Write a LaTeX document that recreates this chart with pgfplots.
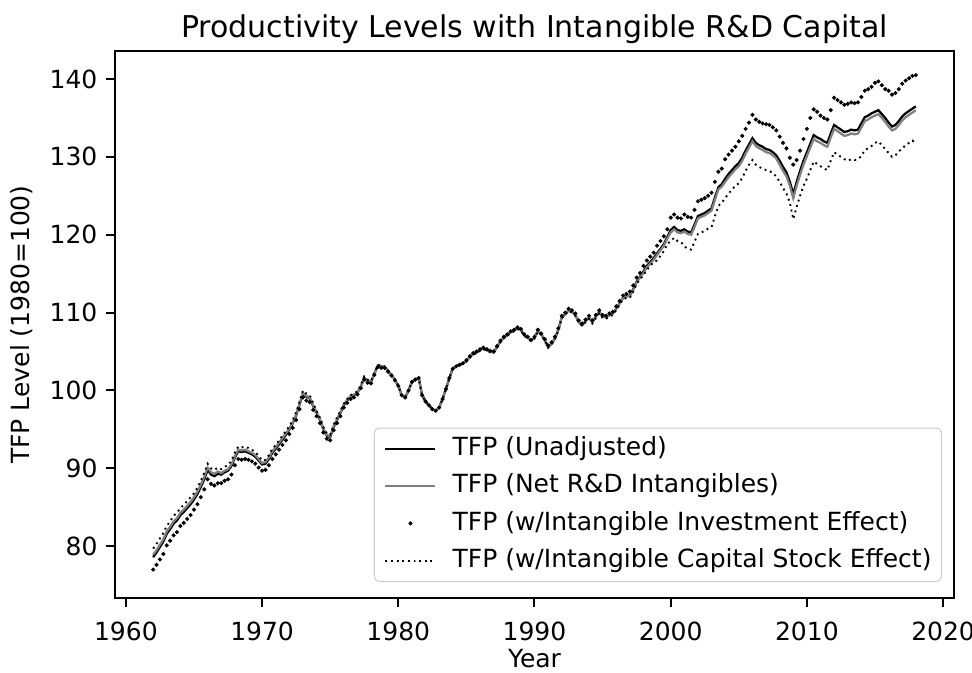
\documentclass[border=0pt]{standalone}
\usepackage{fontspec}
\setmainfont{DejaVu Sans}
\usepackage{pgfplots}
\usepackage{pgfplotstable}
\pgfplotsset{compat=1.18}
\pgfplotstableread{
t U N I C
1962.00 78.6 78.9 77.0 79.7
1962.25 79.2 79.5 77.6 80.3
1962.50 79.9 80.2 78.3 81.0
1962.75 80.6 80.9 79.0 81.7
1963.00 81.6 81.9 80.1 82.6
1963.25 82.2 82.5 80.7 83.2
1963.50 82.9 83.2 81.4 83.9
1963.75 83.3 83.6 81.8 84.3
1964.00 84.0 84.3 82.6 84.9
1964.25 84.4 84.7 83.0 85.3
1964.50 84.9 85.2 83.5 85.8
1964.75 85.4 85.7 84.0 86.3
1965.00 86.0 86.3 84.7 86.8
1965.25 86.7 87.0 85.4 87.5
1965.50 87.6 87.9 86.3 88.4
1965.75 88.6 88.9 87.3 89.4
1966.00 89.8 90.1 88.6 90.6
1966.25 89.2 89.5 88.0 90.0
1966.50 89.0 89.3 87.8 89.8
1966.75 89.3 89.6 88.1 90.1
1967.00 89.2 89.4 88.1 89.9
1967.25 89.5 89.7 88.4 90.2
1967.50 89.7 89.9 88.6 90.4
1967.75 90.3 90.5 89.2 91.0
1968.00 91.4 91.6 90.4 92.0
1968.25 92.2 92.4 91.2 92.8
1968.50 92.1 92.3 91.1 92.7
1968.75 92.2 92.4 91.2 92.8
1969.00 92.0 92.2 91.1 92.6
1969.25 91.8 92.0 90.9 92.4
1969.50 91.5 91.7 90.6 92.1
1969.75 91.0 91.2 90.1 91.6
1970.00 90.5 90.7 89.7 91.0
1970.25 90.6 90.8 89.8 91.1
1970.50 91.2 91.4 90.4 91.7
1970.75 92.0 92.2 91.2 92.5
1971.00 92.5 92.7 91.8 93.0
1971.25 93.1 93.3 92.4 93.6
1971.50 93.7 93.9 93.0 94.2
1971.75 94.3 94.5 93.6 94.8
1972.00 95.0 95.1 94.4 95.4
1972.25 95.8 95.9 95.2 96.2
1972.50 96.8 96.9 96.2 97.2
1972.75 98.2 98.3 97.6 98.6
1973.00 99.6 99.7 99.1 100.0
1973.25 99.2 99.3 98.7 99.6
1973.50 99.0 99.1 98.5 99.4
1973.75 98.0 98.1 97.5 98.4
1974.00 97.1 97.2 96.7 97.4
1974.25 96.2 96.3 95.8 96.5
1974.50 95.0 95.1 94.6 95.3
1974.75 94.2 94.3 93.8 94.5
1975.00 94.0 94.1 93.6 94.3
1975.25 95.3 95.4 94.9 95.6
1975.50 96.2 96.3 95.8 96.5
1975.75 97.1 97.2 96.7 97.4
1976.00 98.1 98.2 97.8 98.3
1976.25 98.7 98.8 98.4 98.9
1976.50 99.2 99.3 98.9 99.4
1976.75 99.4 99.5 99.1 99.6
1977.00 99.7 99.7 99.5 99.9
1977.25 100.5 100.5 100.3 100.7
1977.50 101.6 101.6 101.4 101.8
1977.75 101.2 101.2 101.0 101.4
1978.00 101.1 101.1 100.9 101.2
1978.25 102.2 102.2 102.0 102.3
1978.50 103.2 103.2 103.0 103.3
1978.75 103.1 103.1 102.9 103.2
1979.00 103.0 103.0 102.9 103.1
1979.25 102.5 102.5 102.4 102.6
1979.50 102.0 102.0 101.9 102.1
1979.75 101.4 101.4 101.3 101.5
1980.00 100.6 100.6 100.6 100.6
1980.25 99.4 99.4 99.4 99.4
1980.50 99.1 99.1 99.1 99.1
1980.75 100.0 100.0 100.0 100.0
1981.00 101.1 101.1 101.1 101.1
1981.25 101.4 101.4 101.4 101.4
1981.50 101.6 101.6 101.6 101.6
1981.75 99.4 99.4 99.4 99.4
1982.00 98.6 98.6 98.6 98.6
1982.25 98.1 98.1 98.1 98.1
1982.50 97.6 97.6 97.6 97.6
1982.75 97.4 97.4 97.4 97.4
1983.00 97.8 97.8 97.8 97.8
1983.25 98.9 98.9 98.9 98.9
1983.50 100.2 100.2 100.2 100.2
1983.75 101.6 101.6 101.6 101.6
1984.00 102.8 102.8 102.8 102.8
1984.25 103.1 103.1 103.1 103.1
1984.50 103.3 103.3 103.3 103.3
1984.75 103.5 103.5 103.5 103.5
1985.00 103.8 103.8 103.9 103.7
1985.25 104.3 104.3 104.4 104.2
1985.50 104.7 104.7 104.8 104.6
1985.75 104.9 104.9 105.0 104.8
1986.00 105.2 105.2 105.3 105.1
1986.25 105.4 105.4 105.5 105.3
1986.50 105.2 105.2 105.3 105.1
1986.75 105.0 105.0 105.1 104.9
1987.00 104.9 104.9 105.0 104.8
1987.25 105.6 105.6 105.7 105.5
1987.50 106.3 106.3 106.4 106.2
1987.75 106.8 106.8 106.9 106.7
1988.00 107.1 107.1 107.2 107.0
1988.25 107.5 107.5 107.6 107.4
1988.50 107.7 107.7 107.8 107.6
1988.75 108.0 108.0 108.1 107.9
1989.00 107.8 107.8 107.9 107.7
1989.25 107.1 107.1 107.2 107.0
1989.50 106.8 106.8 106.9 106.7
1989.75 106.4 106.4 106.5 106.3
1990.00 106.8 106.8 106.9 106.7
1990.25 107.7 107.7 107.8 107.6
1990.50 107.2 107.2 107.3 107.1
1990.75 106.5 106.5 106.6 106.4
1991.00 105.6 105.6 105.8 105.5
1991.25 106.0 106.0 106.2 105.9
1991.50 106.7 106.7 106.9 106.6
1991.75 107.8 107.8 108.0 107.7
1992.00 109.4 109.4 109.6 109.3
1992.25 109.8 109.8 110.0 109.7
1992.50 110.3 110.3 110.5 110.2
1992.75 110.1 110.1 110.3 110.0
1993.00 109.7 109.7 109.9 109.6
1993.25 108.8 108.8 109.0 108.7
1993.50 108.4 108.4 108.6 108.3
1993.75 108.9 108.9 109.1 108.8
1994.00 109.4 109.4 109.6 109.2
1994.25 108.8 108.8 109.0 108.6
1994.50 109.5 109.5 109.7 109.3
1994.75 110.1 110.1 110.3 109.9
1995.00 109.5 109.5 109.7 109.3
1995.25 109.4 109.4 109.6 109.2
1995.50 109.7 109.7 109.9 109.5
1995.75 109.9 109.9 110.1 109.7
1996.00 110.5 110.5 110.8 110.3
1996.25 111.2 111.2 111.5 111.0
1996.50 111.9 111.9 112.2 111.7
1996.75 112.1 112.1 112.4 111.9
1997.00 112.2 112.1 112.7 111.9
1997.25 113.0 112.9 113.5 112.7
1997.50 114.0 113.9 114.5 113.7
1997.75 114.6 114.5 115.1 114.3
1998.00 115.3 115.1 116.0 114.8
1998.25 116.0 115.8 116.7 115.5
1998.50 116.5 116.3 117.2 116.0
1998.75 117.0 116.8 117.7 116.5
1999.00 117.6 117.4 118.6 116.7
1999.25 118.2 118.0 119.2 117.3
1999.50 118.8 118.6 119.8 117.9
1999.75 119.7 119.5 120.7 118.8
2000.00 120.6 120.3 122.2 119.2
2000.25 121.0 120.7 122.6 119.6
2000.50 120.6 120.3 122.2 119.2
2000.75 120.5 120.2 122.1 119.1
2001.00 120.7 120.4 122.6 118.5
2001.25 120.4 120.1 122.3 118.2
2001.50 120.3 120.0 122.2 118.1
2001.75 121.3 121.0 123.2 119.1
2002.00 122.4 122.1 124.3 120.1
2002.25 122.6 122.3 124.5 120.3
2002.50 122.8 122.5 124.7 120.5
2002.75 123.1 122.8 125.0 120.8
2003.00 123.4 123.1 125.4 121.0
2003.25 124.8 124.5 126.8 122.4
2003.50 126.1 125.8 128.1 123.7
2003.75 126.5 126.2 128.5 124.1
2004.00 127.2 126.8 129.7 124.7
2004.25 127.8 127.4 130.3 125.3
2004.50 128.3 127.9 130.8 125.8
2004.75 128.8 128.4 131.3 126.3
2005.00 129.2 128.8 132.0 126.6
2005.25 129.9 129.5 132.7 127.3
2005.50 130.8 130.4 133.6 128.2
2005.75 131.6 131.2 134.4 129.0
2006.00 132.4 132.0 135.4 129.6
2006.25 131.8 131.4 134.8 129.0
2006.50 131.5 131.1 134.5 128.7
2006.75 131.3 130.9 134.3 128.5
2007.00 131.0 130.6 134.2 128.3
2007.25 130.9 130.5 134.1 128.2
2007.50 130.6 130.2 133.8 127.9
2007.75 130.2 129.8 133.4 127.5
2008.00 129.5 129.0 132.6 126.8
2008.25 128.7 128.2 131.8 126.0
2008.50 128.0 127.5 131.1 125.3
2008.75 126.8 126.3 129.9 124.1
2009.00 125.2 124.7 129.0 122.0
2009.25 126.8 126.3 129.6 123.6
2009.50 128.2 127.7 130.8 125.0
2009.75 129.5 129.0 132.3 126.3
2010.00 130.6 130.1 133.6 127.2
2010.25 131.7 131.2 135.0 128.3
2010.50 132.8 132.3 136.1 129.4
2010.75 132.5 132.0 135.8 129.1
2011.00 132.3 131.8 135.3 128.8
2011.25 132.0 131.5 135.0 128.5
2011.50 131.8 131.3 134.8 128.3
2011.75 133.0 132.5 136.0 129.5
2012.00 134.1 133.6 137.6 130.6
2012.25 133.8 133.3 137.3 130.3
2012.50 133.5 133.0 137.0 130.0
2012.75 133.2 132.7 136.7 129.7
2013.00 133.3 132.8 136.8 129.5
2013.25 133.5 133.0 137.0 129.7
2013.50 133.4 132.9 136.9 129.6
2013.75 133.5 133.0 137.0 129.7
2014.00 134.3 133.8 137.7 130.1
2014.25 135.1 134.6 138.5 130.9
2014.50 135.3 134.8 138.7 131.1
2014.75 135.6 135.1 139.0 131.4
2015.00 135.8 135.3 139.5 131.8
2015.25 136.0 135.5 139.7 132.0
2015.50 135.5 135.0 139.2 131.5
2015.75 135.0 134.5 138.7 131.0
2016.00 134.4 133.9 138.5 130.5
2016.25 133.9 133.4 138.0 130.0
2016.50 134.1 133.6 138.2 130.2
2016.75 134.6 134.1 138.7 130.7
2017.00 135.2 134.7 139.4 131.1
2017.25 135.6 135.1 139.8 131.5
2017.50 135.9 135.4 140.1 131.8
2017.75 136.2 135.7 140.4 132.1
2018.00 136.5 136.0 140.5 131.7
}\tfpdata
\begin{document}
\begin{tikzpicture}
\path[use as bounding box] (-46pt,-29.6pt) rectangle (342.8pt,239.2pt);
\begin{axis}[
  at={(0pt,0pt)}, anchor=south west,
  scale only axis, width=335.6pt, height=218.8pt,
  xmin=1959.2, xmax=2020.8, ymin=73.35, ymax=143.6,
  xtick={1960,1970,...,2020}, ytick={80,90,...,140},
  minor tick num=0,
  tick align=outside, xtick pos=bottom, ytick pos=left,
  major tick length=3.5pt,
  tick style={black, line width=0.8pt},
  axis line style={black, line width=0.8pt},
  /pgf/number format/assume math mode=true,
  /pgf/number format/1000 sep={},
  ticklabel style={font=\fontsize{10}{12}\selectfont},
  xticklabel style={yshift=-2.5pt},
  every axis title shift=0pt,
  title={Productivity Levels with Intangible R\&D Capital},
  title style={at={(0.5,1)}, anchor=base, yshift=5.4pt, font=\fontsize{12}{14.4}\selectfont},
  xlabel={Year},
  xlabel style={at={(axis description cs:0.5,-0.1115)}, anchor=center, font=\fontsize{10}{12}\selectfont},
  ylabel={TFP Level (1980=100)},
  ylabel style={at={(axis description cs:-0.1108,0.5)}, anchor=center, font=\fontsize{10}{12}\selectfont},
  legend image code/.code={\draw[mark repeat=2,mark phase=2,#1] plot coordinates {(0pt,0pt) (10pt,0pt) (20pt,0pt)};},
  legend cell align=left,
  legend style={at={(1,0)}, anchor=south east, xshift=-4.8pt, yshift=6.4pt,
    draw=black!20, rounded corners=2pt, inner xsep=4pt, inner ysep=3.5pt,
    row sep=5.2pt, column sep=6.4pt, font=\fontsize{10}{12}\selectfont,
    nodes={inner sep=0pt, text height=7.5pt, text depth=2.2pt}},
]
\addplot[black, line width=0.9pt] table[x=t, y=U] {\tfpdata};
\addlegendentry{TFP (Unadjusted)}
\addplot[black!50, line width=0.9pt] table[x=t, y=N] {\tfpdata};
\addlegendentry{TFP (Net R\&D Intangibles)}
\addplot[only marks, mark=*, mark size=0.6pt, black] table[x=t, y=I] {\tfpdata};
\addlegendentry{TFP (w/Intangible Investment Effect)}
\addplot[black, line width=0.75pt, dash pattern=on 0.75pt off 1.5pt] table[x=t, y=C] {\tfpdata};
\addlegendentry{TFP (w/Intangible Capital Stock Effect)}
\end{axis}
\end{tikzpicture}
\end{document}
